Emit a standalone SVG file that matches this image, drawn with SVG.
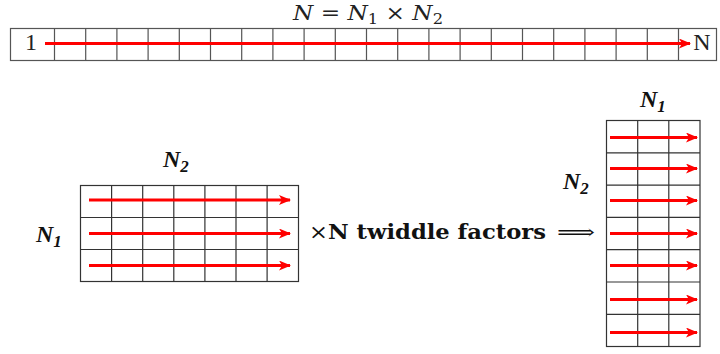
<svg xmlns="http://www.w3.org/2000/svg" width="720" height="354" viewBox="0 0 720 354">
<style>
.grid{fill:none;stroke:#333;stroke-width:1.2}
.strip{fill:none;stroke:#555;stroke-width:1.2}
.arr{stroke:#ff0000;stroke-width:3;fill:none;marker-end:url(#ah)}
.math{font-family:"DejaVu Serif","Liberation Serif",serif;font-size:20px;fill:#222}
.num{font-family:"Liberation Serif",serif;font-size:24px;fill:#222}
.lbl{font-family:"Liberation Serif",serif;font-size:24px;font-weight:bold;font-style:italic;fill:#111}
.tw{font-family:"DejaVu Serif","Liberation Serif",serif;font-size:20px;fill:#111}
</style>
<defs>
<marker id="ah" markerUnits="userSpaceOnUse" markerWidth="12" markerHeight="10" refX="11" refY="5" orient="auto">
<path d="M0,0 L12,5 L0,10 L3,5 Z" fill="#ff0000"/>
</marker>
</defs>

<g id="title">
<text class="math" x="293" y="19.5" textLength="150" lengthAdjust="spacingAndGlyphs"><tspan font-style="italic">N</tspan> = <tspan font-style="italic">N</tspan><tspan font-size="14" dy="4">1</tspan><tspan dy="-4"> × </tspan><tspan font-style="italic">N</tspan><tspan font-size="14" dy="4">2</tspan></text>
</g>

<g id="strip">
<rect class="strip" x="10.5" y="28.5" width="706" height="32"/>
<path class="strip" d="M54.5,28.5V60.5 M85.7,28.5V60.5 M116.9,28.5V60.5 M148.1,28.5V60.5 M179.3,28.5V60.5 M210.5,28.5V60.5 M241.7,28.5V60.5 M272.9,28.5V60.5 M304.1,28.5V60.5 M335.3,28.5V60.5 M366.5,28.5V60.5 M397.7,28.5V60.5 M428.9,28.5V60.5 M460.1,28.5V60.5 M491.3,28.5V60.5 M522.5,28.5V60.5 M553.7,28.5V60.5 M584.9,28.5V60.5 M616.1,28.5V60.5 M647.3,28.5V60.5 M678.5,28.5V60.5"/>
<text class="num" x="31" y="50" text-anchor="middle">1</text>
<text class="num" x="702" y="50" text-anchor="middle">N</text>
</g>

<g id="left-grid">
<rect class="grid" x="80.5" y="185.5" width="218" height="96"/>
<path class="grid" d="M111.6,185.5V281.5 M142.7,185.5V281.5 M173.8,185.5V281.5 M204.9,185.5V281.5 M236,185.5V281.5 M267.1,185.5V281.5 M80.5,217.5H298.5 M80.5,249.5H298.5"/>
<text class="lbl" x="163" y="167">N<tspan font-size="17" dy="5">2</tspan></text>
<text class="lbl" x="36" y="242">N<tspan font-size="17" dy="5">1</tspan></text>
</g>

<g id="twiddle">
<text class="tw" x="309" y="239" textLength="237" lengthAdjust="spacingAndGlyphs">×<tspan font-weight="bold">N twiddle factors</tspan></text>
<text class="tw" x="557" y="239" textLength="38" lengthAdjust="spacingAndGlyphs">⟹</text>
</g>

<g id="right-grid">
<rect class="grid" x="606.5" y="120.5" width="93.5" height="226"/>
<path class="grid" d="M637.7,120.5V346.5 M668.8,120.5V346.5 M606.5,152.8H700 M606.5,185.1H700 M606.5,217.4H700 M606.5,249.7H700 M606.5,282H700 M606.5,314.3H700"/>
<text class="lbl" x="640" y="107">N<tspan font-size="17" dy="5">1</tspan></text>
<text class="lbl" x="563" y="189">N<tspan font-size="17" dy="5">2</tspan></text>
</g>

<g id="connectors">
<line class="arr" x1="45" y1="43.5" x2="690" y2="43.5"/>
<line class="arr" x1="89" y1="200" x2="290" y2="200"/>
<line class="arr" x1="89" y1="233.5" x2="290" y2="233.5"/>
<line class="arr" x1="89" y1="265.5" x2="290" y2="265.5"/>
<line class="arr" x1="610" y1="137.5" x2="697" y2="137.5"/>
<line class="arr" x1="610" y1="168.5" x2="697" y2="168.5"/>
<line class="arr" x1="610" y1="200.5" x2="697" y2="200.5"/>
<line class="arr" x1="610" y1="233.5" x2="697" y2="233.5"/>
<line class="arr" x1="610" y1="265.5" x2="697" y2="265.5"/>
<line class="arr" x1="610" y1="299.5" x2="697" y2="299.5"/>
<line class="arr" x1="610" y1="332.5" x2="697" y2="332.5"/>
</g>
</svg>
